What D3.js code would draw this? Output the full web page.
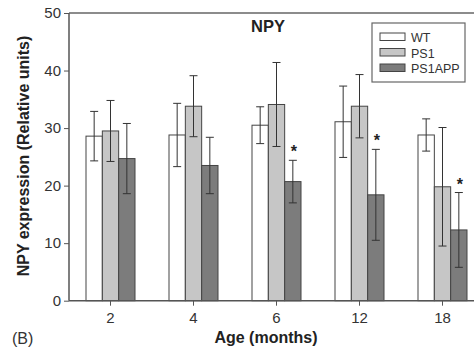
<!DOCTYPE html>
<html>
<head>
<meta charset="utf-8">
<script src="https://cdn.jsdelivr.net/npm/d3@7"></script>
<style>
  body { margin: 0; background: #fff; }
  text { font-family: "Liberation Sans", Arial, sans-serif; }
</style>
</head>
<body>
<div id="chart"></div>
<script>
// data
var ages = ["2", "4", "6", "12", "18"];
var groups = ["WT", "PS1", "PS1APP"];
var wtMean = [28.6, 28.8, 30.5, 31.1, 28.8];
var wtErr = [4.3, 5.5, 3.2, 6.2, 2.8];
var ps1Mean = [29.5, 33.8, 34.1, 33.8, 19.8];
var ps1Err = [5.3, 5.3, 7.3, 5.5, 10.3];
var appMean = [24.7, 23.5, 20.7, 18.4, 12.3];
var appErr = [6.1, 4.9, 3.7, 7.9, 6.5];
var starred = ["6", "12", "18"];
var yTicks = [0, 10, 20, 30, 40, 50];

var fills = ["#ffffff", "#c6c6c6", "#7c7c7c"];

var W = 474, H = 356;
var svg = d3.select("#chart").append("svg")
  .attr("width", W).attr("height", H)
  .style("background-color", "white");

var plotLeft = 69, plotTop = 13, plotBottom = 300.7;

var x = d3.scaleBand().domain(ages).range([plotLeft, plotLeft + 5 * 83]).paddingInner(0).paddingOuter(0);
var xi = d3.scaleBand().domain(groups).range([x.bandwidth() / 2 - 24.5, x.bandwidth() / 2 + 24.5]);
var y = d3.scaleLinear().domain([0, 50]).range([plotBottom, plotTop]);

var data = [];
ages.forEach(function(a, i) {
  data.push({age: a, g: "WT", v: wtMean[i], e: wtErr[i]});
  data.push({age: a, g: "PS1", v: ps1Mean[i], e: ps1Err[i]});
  data.push({age: a, g: "PS1APP", v: appMean[i], e: appErr[i]});
});

function cx(d) { return x(d.age) + xi(d.g) + xi.bandwidth() / 2; }

// bars
svg.selectAll(".bar").data(data).enter().append("rect")
  .attr("class", "bar")
  .attr("x", function(d) { return x(d.age) + xi(d.g); })
  .attr("width", xi.bandwidth())
  .attr("y", function(d) { return y(d.v); })
  .attr("height", function(d) { return y(0) - y(d.v); })
  .attr("fill", function(d) { return fills[groups.indexOf(d.g)]; })
  .attr("stroke", "#444")
  .attr("stroke-width", 1);

// error bars
var eb = svg.selectAll(".err").data(data).enter().append("g").attr("class", "err")
  .attr("stroke", "#333").attr("stroke-width", 1);
eb.append("line")
  .attr("x1", cx).attr("x2", cx)
  .attr("y1", function(d) { return y(d.v + d.e); })
  .attr("y2", function(d) { return y(d.v - d.e); });
[1, -1].forEach(function(s) {
  eb.append("line")
    .attr("x1", function(d) { return cx(d) - 4; })
    .attr("x2", function(d) { return cx(d) + 4; })
    .attr("y1", function(d) { return y(d.v + s * d.e); })
    .attr("y2", function(d) { return y(d.v + s * d.e); });
});

// significance stars
svg.selectAll(".star").data(data.filter(function(d) { return d.g == "PS1APP" && starred.indexOf(d.age) >= 0; }))
  .enter().append("text")
  .attr("class", "star")
  .attr("x", function(d) { return cx(d) + 1; })
  .attr("y", function(d) { return y(d.v + d.e) - 3; })
  .attr("text-anchor", "middle")
  .attr("font-size", "16px")
  .attr("font-weight", "bold")
  .attr("fill", "#222")
  .text("*");

// top frame line
svg.append("line")
  .attr("x1", plotLeft).attr("x2", W).attr("y1", plotTop).attr("y2", plotTop)
  .attr("stroke", "#666").attr("stroke-width", 1.5);

// axes
var yAxis = svg.append("g")
  .attr("transform", "translate(" + plotLeft + ",0)")
  .call(d3.axisLeft(y).tickValues(yTicks).tickSize(5).tickPadding(3));
var xAxis = svg.append("g")
  .attr("transform", "translate(0," + plotBottom + ")")
  .call(d3.axisBottom(x).tickSize(5).tickPadding(6.5).tickSizeOuter(0));
[yAxis, xAxis].forEach(function(ax) {
  ax.select(".domain").attr("stroke", "#555").attr("stroke-width", 1.5);
  ax.selectAll(".tick line").attr("stroke", "#555");
  ax.selectAll(".tick text").attr("fill", "#333").style("font-size", "15px")
    .style("font-family", "'Liberation Sans', Arial, sans-serif");
});
yAxis.select(".domain").attr("d", "M0," + plotBottom + "V" + plotTop);
xAxis.select(".domain").attr("d", "M" + plotLeft + ",0H" + W);

// titles
svg.append("text").attr("x", 268).attr("y", 32).attr("text-anchor", "middle")
  .attr("font-size", "16.5px").attr("font-weight", "bold").attr("fill", "#222").text("NPY");
svg.append("text").attr("transform", "translate(29,156) rotate(-90)").attr("text-anchor", "middle")
  .attr("font-size", "16px").attr("font-weight", "bold").attr("fill", "#222")
  .text("NPY expression (Relative units)");
svg.append("text").attr("x", 266).attr("y", 343).attr("text-anchor", "middle")
  .attr("font-size", "16px").attr("font-weight", "bold").attr("fill", "#222").text("Age (months)");
svg.append("text").attr("x", 12).attr("y", 344)
  .attr("font-size", "16px").attr("fill", "#333").text("(B)");

// legend
var lg = svg.append("g").attr("transform", "translate(372,23)");
lg.append("rect").attr("width", 93).attr("height", 59)
  .attr("fill", "white").attr("stroke", "#666").attr("stroke-width", 1.2);
groups.forEach(function(g, i) {
  lg.append("rect").attr("x", 8).attr("y", 10 + i * 15.5).attr("width", 25).attr("height", 7.5)
    .attr("fill", fills[i]).attr("stroke", "#444");
  lg.append("text").attr("x", 39).attr("y", 19 + i * 15.5)
    .attr("font-size", "12.5px").attr("fill", "#333").text(g);
});
</script>
</body>
</html>
